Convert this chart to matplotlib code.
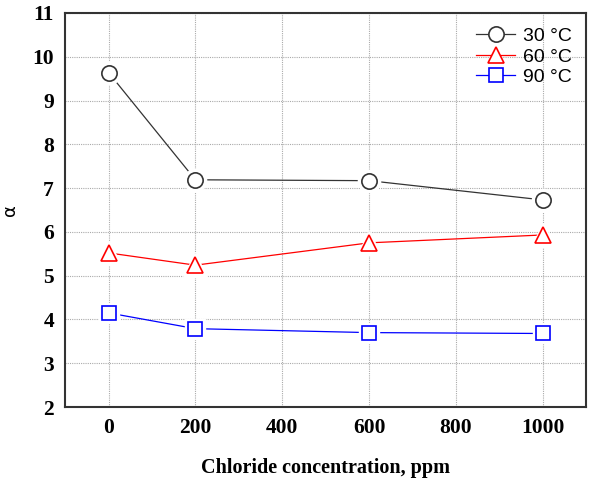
import matplotlib.pyplot as plt

chloride = [0, 200, 600, 1000]
alpha_30 = [9.64, 7.19, 7.17, 6.73]
alpha_60 = [5.52, 5.24, 5.75, 5.93]
alpha_90 = [4.15, 3.79, 3.70, 3.68]

series = [
    (alpha_30, '30 \u00b0C', '#333333', 'o', 11),
    (alpha_60, '60 \u00b0C', 'red', '^', 12),
    (alpha_90, '90 \u00b0C', 'blue', 's', 9.5),
]

fig = plt.figure(figsize=(5.97, 4.8), dpi=100)
ax = fig.add_axes([0.109, 0.152, 0.873, 0.821])

for values, label, color, marker, ms in series:
    ax.plot(chloride, values, color=color, lw=0.9, zorder=2, label=label,
            marker=marker, ms=ms, mfc='white', mec=color, mew=1.2)
    # white halo so the line stops short of each marker
    ax.plot(chloride, values, ls='none', marker=marker, ms=ms + 5,
            mfc='white', mec='white', zorder=3)
    ax.plot(chloride, values, ls='none', marker=marker, ms=ms,
            mfc='white', mec=color, mew=1.2, zorder=4)

ax.set_xlim(-100, 1100)
ax.set_ylim(2, 11)
ax.set_xticks([0, 200, 400, 600, 800, 1000])
ax.set_yticks(range(2, 12))
ax.grid(True, color='#aaaaaa', ls=(0, (1, 1)), lw=0.8)
ax.set_axisbelow(True)

for s in ax.spines.values():
    s.set_linewidth(1.5)
    s.set_color('#333333')
ax.tick_params(direction='in', length=0, pad=8)
for lab in ax.get_xticklabels() + ax.get_yticklabels():
    lab.set_fontfamily('Liberation Serif')
    lab.set_fontweight('bold')
    lab.set_fontsize(15.5)

ax.set_xlabel('Chloride concentration, ppm', fontfamily='Liberation Serif',
              fontweight='bold', fontsize=14.5, labelpad=14)
ax.set_ylabel('\u03b1', fontfamily='DejaVu Sans', fontsize=13)
ax.yaxis.set_label_coords(-0.088, 0.5)

leg = ax.legend(loc='upper right', frameon=False, prop={'family': 'Liberation Sans', 'size': 14},
                handlelength=2.0, handletextpad=0.4, labelspacing=0.15,
                borderaxespad=0.35)

fig.savefig('out.png', dpi=100)
